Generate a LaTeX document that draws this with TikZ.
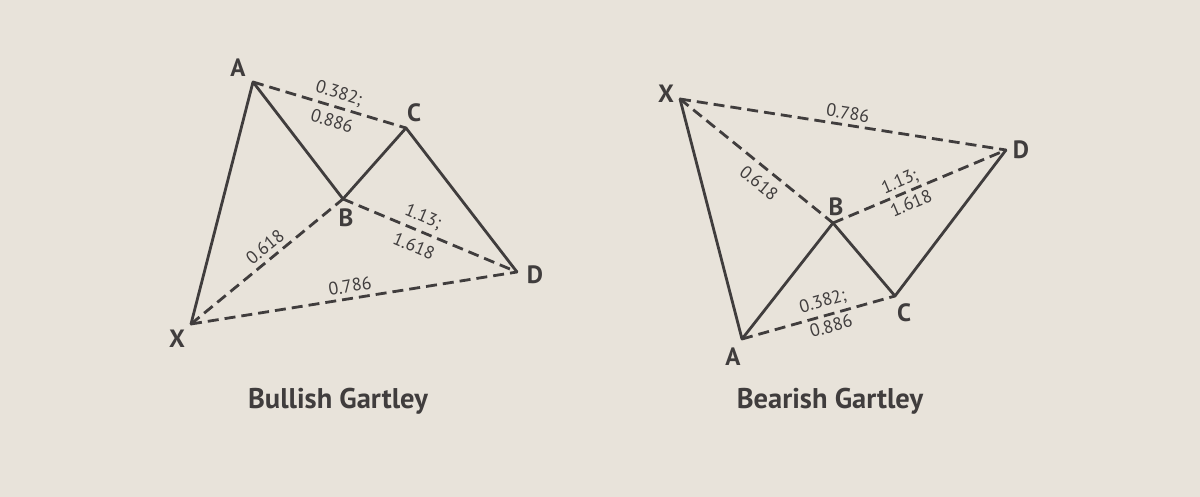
\documentclass[tikz,border=0pt]{standalone}
\usepackage{fontspec}
\setmainfont{PT Sans}
\begin{document}
\begin{tikzpicture}[x=1pt,y=-1pt,
  solidleg/.style={draw=ink,line width=2.8pt,line cap=round,line join=round},
  dashleg/.style={draw=ink,line width=2.8pt,dash pattern=on 11pt off 6pt},
  ptlabel/.style={text=ink,font=\bfseries\fontsize{25}{25}\selectfont,inner sep=0pt},
  ratio/.style={text=ink,font=\fontsize{18}{18}\selectfont,inner sep=0pt},
  title/.style={text=ink,font=\bfseries\fontsize{28.5}{28.5}\selectfont,inner sep=0pt}]
\definecolor{bg}{RGB}{232,227,218}
\definecolor{ink}{RGB}{64,61,61}
\fill[bg] (0,0) rectangle (1200,497);
\useasboundingbox (0,0) rectangle (1200,497);
% Bullish
\coordinate (lA) at (253,82);
\coordinate (lC) at (406,128);
\coordinate (lB) at (343,199);
\coordinate (lD) at (517,272);
\coordinate (lX) at (191,324);
\draw[dashleg] (lA) -- (lC);
\draw[dashleg] (lB) -- (lD);
\draw[dashleg] (lX) -- (lB);
\draw[dashleg] (lX) -- (lD);
\draw[solidleg] (lX) -- (lA) -- (lB) -- (lC) -- (lD);
\node[ptlabel] (tlA) at (238,68) {A};
\node[ptlabel] (tlC) at (414,113) {C};
\node[ptlabel] (tlB) at (346,218) {B};
\node[ptlabel] (tlD) at (535,275) {D};
\node[ptlabel] (tlX) at (177,339) {X};
\node[ratio,rotate=-16.7] (rl1) at (339,94) {0.382;};
\node[ratio,rotate=-16.7] (rl2) at (332,121) {0.886};
\node[ratio,rotate=-22.8] (rl3) at (423,217) {1.13;};
\node[ratio,rotate=-22.8] (rl4) at (414,246) {1.618};
\node[ratio,rotate=39.4] (rl5) at (265,247) {0.618};
\node[ratio,rotate=9] (rl6) at (350,286) {0.786};
\node[title] (tl) at (338,401) {Bullish Gartley};
% Bearish
\coordinate (rX) at (680,99);
\coordinate (rD) at (1006,150);
\coordinate (rB) at (833,223);
\coordinate (rC) at (895,296);
\coordinate (rA) at (742,339);
\draw[dashleg] (rX) -- (rD);
\draw[dashleg] (rX) -- (rB);
\draw[dashleg] (rB) -- (rD);
\draw[dashleg] (rA) -- (rC);
\draw[solidleg] (rX) -- (rA) -- (rB) -- (rC) -- (rD);
\node[ptlabel] (trX) at (666,94) {X};
\node[ptlabel] (trD) at (1021,150) {D};
\node[ptlabel] (trB) at (836,207) {B};
\node[ptlabel] (trC) at (904,313) {C};
\node[ptlabel] (trA) at (733,357) {A};
\node[ratio,rotate=-8.9] (rr1) at (848,113) {0.786};
\node[ratio,rotate=-39] (rr2) at (759,183) {0.618};
\node[ratio,rotate=22.9] (rr3) at (900,182) {1.13;};
\node[ratio,rotate=22.9] (rr4) at (911,203) {1.618};
\node[ratio,rotate=15.7] (rr5) at (823,302) {0.382;};
\node[ratio,rotate=15.7] (rr6) at (831,326) {0.886};
\node[title] (tr) at (830,401) {Bearish Gartley};
\end{tikzpicture}
\end{document}
